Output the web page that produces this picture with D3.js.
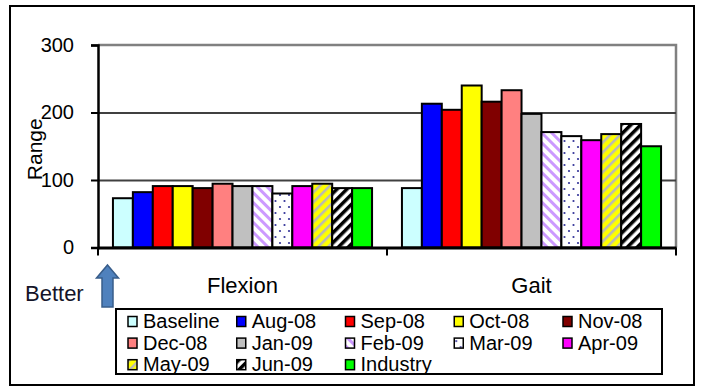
<!DOCTYPE html>
<html>
<head>
<meta charset="utf-8">
<script src="https://cdn.jsdelivr.net/npm/d3@7"></script>
<style>
  html, body { margin: 0; padding: 0; background: #fff; }
  svg { display: block; }
  text { font-family: "Liberation Sans", Arial, sans-serif; fill: #000; }
</style>
</head>
<body>
<svg id="chart" width="701" height="387"></svg>
<script>
// Range of motion per measurement period
const categories = ["Flexion", "Gait"];
const seriesNames = ["Baseline", "Aug-08", "Sep-08", "Oct-08", "Nov-08", "Dec-08", "Jan-09",
                     "Feb-09", "Mar-09", "Apr-09", "May-09", "Jun-09", "Industry"];
const flexionValues = [73, 82, 91, 91, 88, 94.5, 91, 91, 80, 91, 94.5, 88, 88];
const gaitValues = [88, 213, 204, 240, 216, 233, 198, 171, 165, 159, 168, 183, 150];
const yTicks = [0, 100, 200, 300];

// Fill for each series (solid colours or hatch patterns defined below)
const seriesFills = ["#ccffff", "#0000ff", "#ff0000", "#ffff00", "#800000", "#ff8080", "#c0c0c0",
                     "url(#hatch-feb)", "url(#dots-mar)", "#ff00ff", "url(#hatch-may)", "url(#hatch-jun)", "#00ff00"];

const valuesByCategory = { "Flexion": flexionValues, "Gait": gaitValues };

const svg = d3.select("#chart");

// ---- patterns ----
const defs = svg.append("defs");
function stripes(id, bg, fg, period, thick, angle) {
  const p = defs.append("pattern").attr("id", id)
    .attr("patternUnits", "userSpaceOnUse")
    .attr("width", period).attr("height", period)
    .attr("patternTransform", `rotate(${angle})`);
  p.append("rect").attr("width", period).attr("height", period).attr("fill", bg);
  p.append("rect").attr("width", thick).attr("height", period).attr("fill", fg);
}
stripes("hatch-feb", "#ffffff", "#cc99ff", 7, 3, -45);
stripes("hatch-may", "#ffff00", "#b8b8b8", 7, 2.5, 45);
stripes("hatch-jun", "#ffffff", "#000000", 7, 3.5, 45);
const dots = defs.append("pattern").attr("id", "dots-mar")
  .attr("patternUnits", "userSpaceOnUse").attr("width", 9).attr("height", 12);
dots.append("rect").attr("width", 9).attr("height", 12).attr("fill", "#ffffff");
dots.append("circle").attr("cx", 2).attr("cy", 3).attr("r", 1.1).attr("fill", "#333399");
dots.append("circle").attr("cx", 6.5).attr("cy", 9).attr("r", 1.1).attr("fill", "#333399");

// ---- outer frame ----
svg.append("rect").attr("x", 10).attr("y", 6).attr("width", 684).attr("height", 379)
  .attr("fill", "#fff").attr("stroke", "#000").attr("stroke-width", 2);

// ---- scales ----
const plotLeft = 98, plotRight = 676, plotTop = 45, plotBottom = 247.5;
const x0 = d3.scaleBand().domain(categories).range([plotLeft, plotRight]).paddingInner(0).paddingOuter(0);
const x1 = d3.scaleBand().domain(seriesNames).range([0, x0.bandwidth()]).paddingInner(0).paddingOuter(0.75);
const y = d3.scaleLinear().domain([0, 300]).range([plotBottom, plotTop]);

// ---- plot area frame (top/right in grey) ----
svg.append("path")
  .attr("d", `M${plotLeft},${y(300)}H${plotRight}V${plotBottom}`)
  .attr("fill", "none").attr("stroke", "#808080").attr("stroke-width", 2.5);

// ---- gridlines ----
svg.append("g")
  .attr("transform", `translate(${plotLeft},0)`)
  .call(d3.axisLeft(y).tickValues([100, 200]).tickSize(-(plotRight - plotLeft)).tickFormat(""))
  .call(g => g.select(".domain").remove())
  .call(g => g.selectAll("line").attr("stroke", "#404040").attr("stroke-width", 2));

// ---- bars ----
const groups = svg.append("g").selectAll("g")
  .data(categories).join("g")
  .attr("transform", d => `translate(${x0(d)},0)`);
groups.selectAll("rect")
  .data(c => seriesNames.map((s, i) => ({ s, i, v: valuesByCategory[c][i] })))
  .join("rect")
  .attr("x", d => x1(d.s))
  .attr("y", d => y(d.v))
  .attr("width", x1.bandwidth())
  .attr("height", d => y(0) - y(d.v))
  .attr("fill", d => seriesFills[d.i])
  .attr("stroke", "#000").attr("stroke-width", 2);

// ---- y axis ----
svg.append("g")
  .attr("transform", `translate(${plotLeft},0)`)
  .call(d3.axisLeft(y).tickValues(yTicks).tickSize(7).tickPadding(17).tickFormat(d3.format("d")))
  .call(g => g.select(".domain").attr("stroke-width", 2.5))
  .call(g => g.selectAll("line").attr("stroke-width", 2))
  .call(g => g.selectAll("text").attr("font-size", 20).attr("font-family", "Liberation Sans, Arial, sans-serif").attr("fill", "#000"));

// ---- x axis ----
svg.append("g")
  .attr("transform", `translate(0,${plotBottom})`)
  .call(d3.axisBottom(x0).tickSize(0).tickPadding(30))
  .call(g => g.select(".domain").attr("stroke-width", 3))
  .call(g => g.selectAll("text").attr("font-size", 22).attr("font-family", "Liberation Sans, Arial, sans-serif").attr("fill", "#000"));
// category boundary ticks
svg.append("g").selectAll("line")
  .data([...categories.map(c => x0(c)), plotRight])
  .join("line")
  .attr("x1", d => d).attr("x2", d => d)
  .attr("y1", plotBottom).attr("y2", plotBottom + 8)
  .attr("stroke", "#000").attr("stroke-width", 2);

// ---- y title ----
svg.append("text")
  .attr("transform", `translate(42,${(plotTop + plotBottom) / 2 + 3}) rotate(-90)`)
  .attr("text-anchor", "middle")
  .attr("font-size", 21)
  .text("Range");

// ---- "Better" indicator ----
svg.append("text")
  .attr("x", 25).attr("y", 301)
  .attr("font-family", "Lato, 'Open Sans', sans-serif")
  .attr("font-size", 22)
  .style("fill", "#141428")
  .text("Better");
svg.append("path")
  .attr("d", "M107.5,265 L118.5,278 L113,278 L113,307 L102,307 L102,278 L96.5,278 Z")
  .attr("fill", "#4f81bd").attr("stroke", "#385d8a").attr("stroke-width", 1.5);

// ---- legend ----
const legend = svg.append("g");
legend.append("rect").attr("x", 116).attr("y", 309).attr("width", 546).attr("height", 65)
  .attr("fill", "#fff").attr("stroke", "#000").attr("stroke-width", 2);
const cols = 5, colStep = 108.75, rowStep = 21.6, swX = 128, swY = 316.5;
const items = legend.selectAll("g.item")
  .data(seriesNames).join("g").attr("class", "item")
  .attr("transform", (d, i) => `translate(${swX + (i % cols) * colStep},${swY + Math.floor(i / cols) * rowStep})`);
items.append("rect").attr("width", 9).attr("height", 10)
  .attr("fill", (d, i) => seriesFills[i]).attr("stroke", "#000").attr("stroke-width", 1.5);
items.append("text").attr("x", 15).attr("y", 11.5)
  .attr("font-size", 20).text(d => d);
</script>
</body>
</html>
